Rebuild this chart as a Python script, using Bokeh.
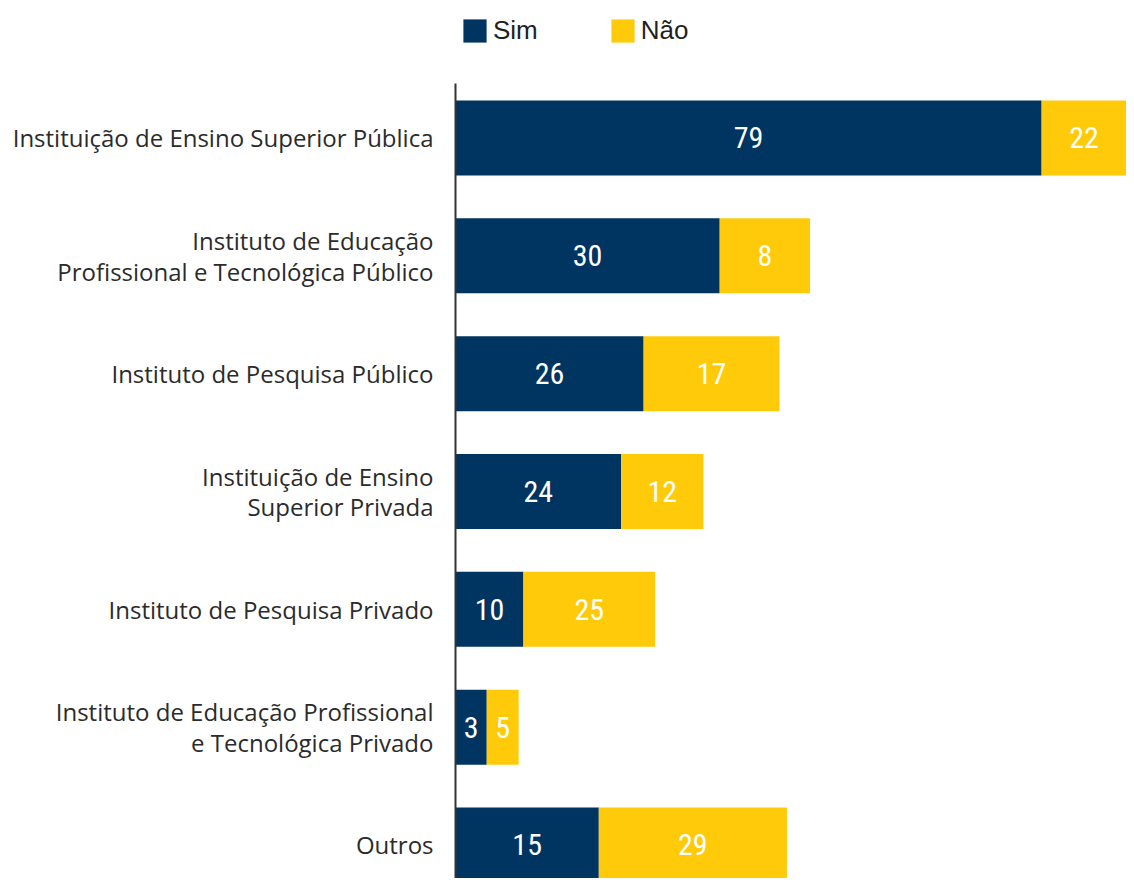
from bokeh.plotting import figure
from bokeh.layouts import column
from bokeh.models import Range1d, FixedTicker, Legend, LegendItem, ColumnDataSource
from bokeh.core.properties import value
from bokeh.embed import file_html
from bokeh.resources import INLINE

# ---- data ----
categories = [
    "Instituição de Ensino Superior Pública",
    "Instituto de Educação\nProfissional e Tecnológica Público",
    "Instituto de Pesquisa Público",
    "Instituição de Ensino\nSuperior Privada",
    "Instituto de Pesquisa Privado",
    "Instituto de Educação Profissional\ne Tecnológica Privado",
    "Outros",
]
sim_labels = [79, 30, 26, 24, 10, 3, 15]
nao_labels = [22, 8, 17, 12, 25, 5, 29]
# bar lengths as drawn in the picture (axis units)
sim_len = [86.3, 38.9, 27.7, 24.4, 10.0, 4.6, 21.1]
nao_len = [22.0, 13.3, 20.0, 12.1, 19.4, 4.7, 27.7]
series_names = ["Sim", "Não"]

SIM_COLOR = "#003461"
NAO_COLOR = "#FFCA0A"
X_MAX = 98.8

ys = list(range(len(categories)))
sim_left = [0.0] * len(ys)
sim_right = sim_len
nao_left = sim_len
nao_right = [a + b for a, b in zip(sim_len, nao_len)]

src = ColumnDataSource(dict(
    y=ys, sl=sim_left, sr=sim_right, nl=nao_left, nr=nao_right,
    sx=[(a + min(b, X_MAX)) / 2 for a, b in zip(sim_left, sim_right)],
    nx=[(a + min(b, X_MAX)) / 2 for a, b in zip(nao_left, nao_right)],
    st=[str(v) for v in sim_labels],
    nt=[str(v) for v in nao_labels],
))

# ---- legend strip (frame aligned with the chart below) ----
pl = figure(width=1126, height=83, output_backend="svg", toolbar_location=None,
            x_range=Range1d(0, 1), y_range=Range1d(0, 1), min_border=0,
            min_border_left=455)
pl.axis.visible = False
pl.grid.visible = False
pl.outline_line_color = None
# legend proxies, placed outside the visible range
lg_sim = pl.hbar(y=[-5], left=[0], right=[1], height=1, fill_color=SIM_COLOR, line_color=None)
lg_nao = pl.hbar(y=[-5], left=[0], right=[1], height=1, fill_color=NAO_COLOR, line_color=None)
legend = Legend(items=[LegendItem(label=series_names[0], renderers=[lg_sim]),
                       LegendItem(label=series_names[1], renderers=[lg_nao])],
                orientation="horizontal", location=(5, 37),
                glyph_width=29, glyph_height=29, label_standoff=4, spacing=70,
                padding=0, margin=0, border_line_color=None,
                background_fill_alpha=0,
                label_text_font="Liberation Sans", label_text_font_size="26px",
                label_text_color="#231f20", label_height=23)
pl.add_layout(legend, "center")

# ---- main chart ----
p = figure(width=1126, height=795, output_backend="svg", toolbar_location=None,
           x_range=Range1d(0, X_MAX), y_range=Range1d(6.2845, -0.4625),
           min_border=0, min_border_left=455, min_border_top=0,
           min_border_right=0, min_border_bottom=0)
p.outline_line_color = None
p.xgrid.visible = False
p.ygrid.visible = False
p.xaxis.visible = False

p.hbar(y="y", left="sl", right="sr", height=0.6365, source=src,
       fill_color=SIM_COLOR, line_color=None)
p.hbar(y="y", left="nl", right="nr", height=0.6365, source=src,
       fill_color=NAO_COLOR, line_color=None)

lab_font = value("Roboto Condensed")
p.text(x="sx", y="y", text="st", source=src, text_color="white",
       text_font=lab_font, text_font_size="30px",
       text_align="center", text_baseline="middle")
p.text(x="nx", y="y", text="nt", source=src, text_color="white",
       text_font=lab_font, text_font_size="30px",
       text_align="center", text_baseline="middle")

yax = p.yaxis[0]
yax.ticker = FixedTicker(ticks=ys)
yax.major_label_overrides = {i: c for i, c in enumerate(categories)}
yax.major_tick_line_color = None
yax.minor_tick_line_color = None
yax.major_tick_out = 0
yax.major_tick_in = 0
yax.major_label_standoff = 22
yax.axis_line_color = "#333333"
yax.axis_line_width = 2
yax.major_label_text_font = "Open Sans"
yax.major_label_text_font_size = "24px"
yax.major_label_text_color = "#2b2b2b"
yax.major_label_text_line_height = 0.92

layout = column(pl, p, spacing=0)
open("out.html", "w").write(file_html(layout, INLINE))
